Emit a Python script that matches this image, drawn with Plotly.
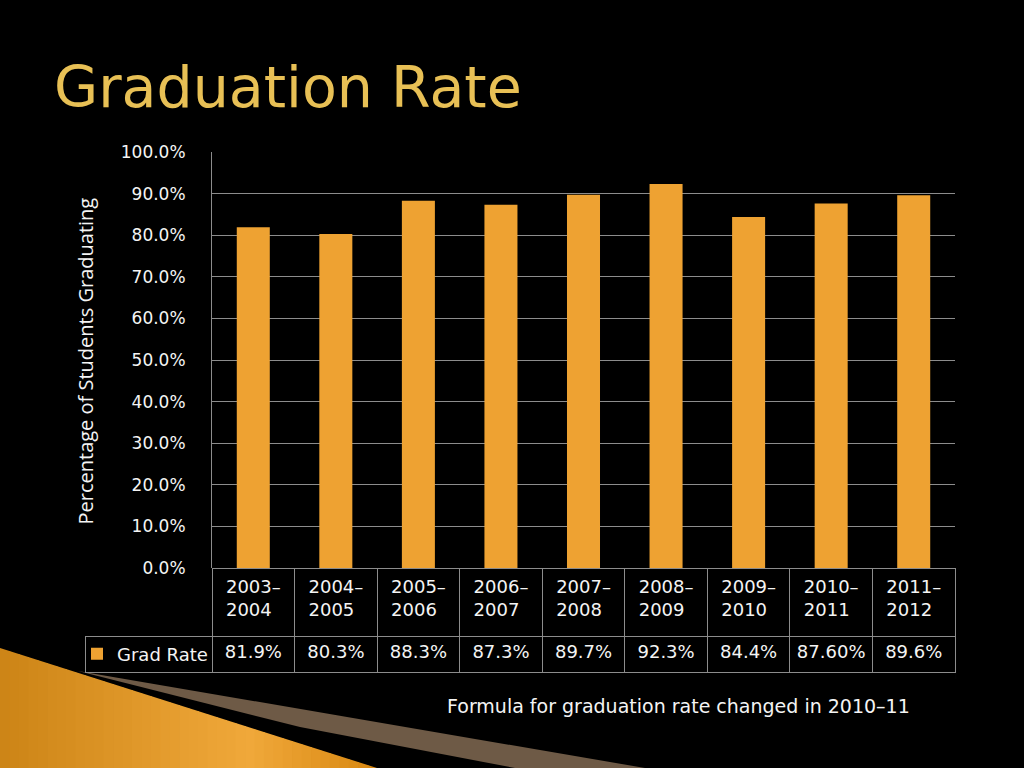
import plotly.graph_objects as go

# school years and graduation rates
years = ["2003–<br>2004", "2004–<br>2005", "2005–<br>2006", "2006–<br>2007", "2007–<br>2008",
         "2008–<br>2009", "2009–<br>2010", "2010–<br>2011", "2011–<br>2012"]
grad_rate = [0.819, 0.803, 0.883, 0.873, 0.897, 0.923, 0.844, 0.876, 0.896]
rate_labels = ["81.9%", "80.3%", "88.3%", "87.3%", "89.7%", "92.3%", "84.4%", "87.60%", "89.6%"]
series_name = "Grad Rate"

W, H = 1024, 768
BAR = "#EEA232"
GRID = "#8C8C8C"
TXT = "#F4F4F4"
FONT = "DejaVu Sans"

def px(x):
    return x / W

def py(y):
    return 1 - y / H

fig = go.Figure()

# bars (legend entry doubles as the swatch in the table's first cell)
fig.add_trace(go.Bar(x=years, y=grad_rate, marker=dict(color=BAR, line=dict(width=0)),
                     name=series_name, showlegend=True, hoverinfo="skip"))

# data table under the chart (years row + values row)
# domain a little taller than the rows so no scrollbar shows up
fig.add_trace(go.Table(
    domain=dict(x=[px(85), px(955)], y=[py(680), py(568)]),
    columnwidth=[127] + [82.5] * len(years),
    header=dict(values=[""] + years, height=68,
                fill=dict(color=["rgba(0,0,0,0)"] + ["black"] * len(years)),
                line=dict(color=["rgba(0,0,0,0)"] + [GRID] * len(years), width=1),
                font=dict(family=FONT, size=18, color=TXT), align="center"),
    cells=dict(values=[""] + rate_labels,
               height=36, fill=dict(color="black"),
               line=dict(color=GRID, width=1),
               font=dict(family=FONT, size=18, color=TXT), align="center"),
))

# decorative orange wedge, bottom-left, faked horizontal gradient with thin slices
def edge(x):
    return 648 + (768 - 648) * x / 377.0

stops = [(0, (204, 132, 22)), (250, (240, 168, 58)), (377, (216, 136, 18))]

def colour_at(x):
    for (x0, c0), (x1, c1) in zip(stops, stops[1:]):
        if x <= x1:
            t = (x - x0) / (x1 - x0)
            return "rgb(%d,%d,%d)" % tuple(round(a + (b - a) * t) for a, b in zip(c0, c1))
    return "rgb(%d,%d,%d)" % stops[-1][1]

n_slices = 40
for i in range(n_slices):
    a = 377.0 * i / n_slices
    b = 377.0 * (i + 1) / n_slices + 0.8
    fig.add_shape(type="path", xref="paper", yref="paper", layer="below",
                  path="M %f %f L %f %f L %f %f L %f %f Z" % (px(a), py(edge(a)), px(b), py(edge(b)),
                                                          px(b), py(768), px(a), py(768)),
                  fillcolor=colour_at((a + b) / 2), line=dict(width=0))

# brown wedge
fig.add_shape(type="path", xref="paper", yref="paper", layer="below",
              path="M %f %f L %f %f L %f %f L %f %f Z" % (px(78), py(671), px(645), py(768),
                                                      px(515), py(768), px(300), py(727)),
              fillcolor="#6E5A46", line=dict(width=0))

# hide the table's scrollbar track to the right of the last column
fig.add_shape(type="rect", xref="paper", yref="paper", layer="above",
              x0=px(956.5), x1=px(1000), y0=py(690), y1=py(630),
              fillcolor="black", line=dict(width=0))

# slide title
fig.add_annotation(text="Graduation Rate", xref="paper", yref="paper", x=px(52), y=py(87),
                   xanchor="left", yanchor="middle", showarrow=False,
                   font=dict(family=FONT, size=57, color="#E8C055"))

# y-axis title
fig.add_annotation(text="Percentage of Students Graduating", xref="paper", yref="paper",
                   x=px(70), y=py(361), textangle=-90, showarrow=False,
                   font=dict(family="Open Sans", size=20, color=TXT))

# footnote
fig.add_annotation(text="Formula for graduation rate changed in 2010–11", xref="paper", yref="paper",
                   x=px(445), y=py(706), xanchor="left", yanchor="middle", showarrow=False,
                   font=dict(family=FONT, size=19, color=TXT))

fig.update_layout(
    width=W, height=H,
    margin=dict(l=0, r=0, t=0, b=0, autoexpand=False),
    paper_bgcolor="black", plot_bgcolor="black",
    bargap=0.6,
    xaxis=dict(domain=[px(212), px(955)], range=[-0.5, len(years) - 0.5], automargin=False,
               showticklabels=False, showgrid=False, zeroline=False, fixedrange=True),
    yaxis=dict(domain=[py(568), py(152)], range=[0, 1], dtick=0.1, tickformat=".1%",
               automargin=False,
               showgrid=True, gridcolor=GRID, gridwidth=1, zeroline=False,
               showline=True, linecolor=GRID, linewidth=1, ticks="",
               ticklabelstandoff=22,
               tickfont=dict(family=FONT, size=17, color=TXT)),
    showlegend=True,
    legend=dict(x=px(77), y=py(654), xanchor="left", yanchor="middle",
                bgcolor="rgba(0,0,0,0)", borderwidth=0, itemclick=False, itemdoubleclick=False,
                font=dict(family=FONT, size=18, color=TXT)),
)

fig.write_html("out.html", config={"displayModeBar": False},
               post_script="document.body.style.margin='0';")
